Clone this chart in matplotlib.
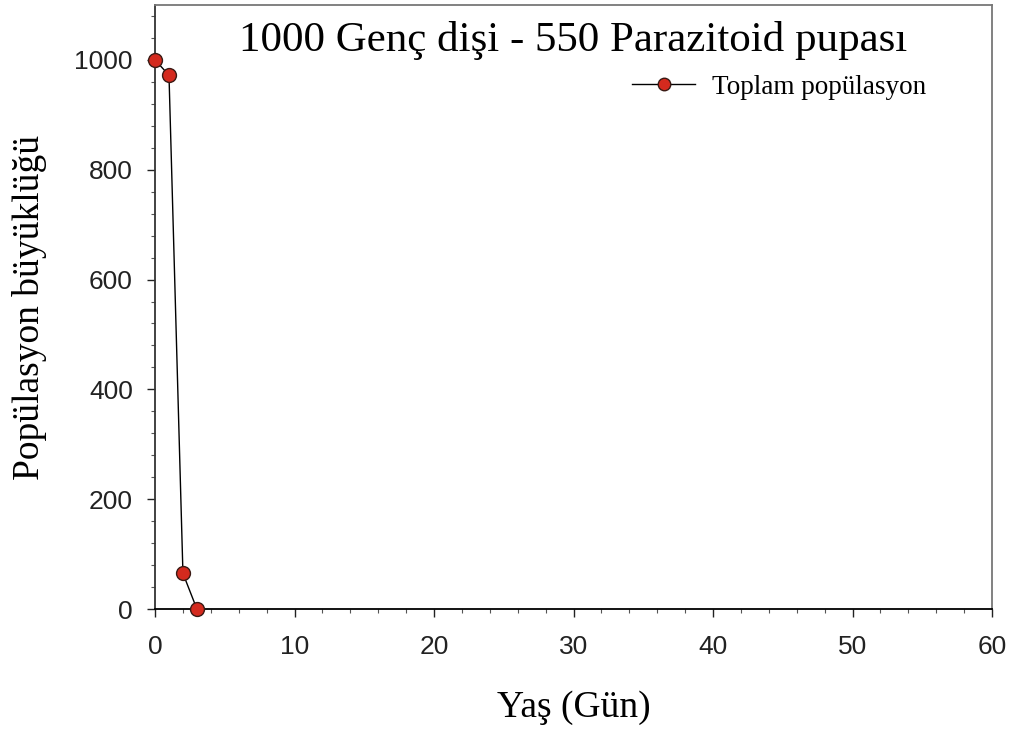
import matplotlib
matplotlib.use('Agg')
import matplotlib.pyplot as plt
from matplotlib.ticker import MultipleLocator

# data
gun = [0, 1, 2, 3]
toplam = [1000, 972, 65, 0]

baslik = '1000 Genç dişi - 550 Parazitoid pupası'
x_etiket = 'Yaş (Gün)'
y_etiket = 'Popülasyon büyüklüğü'
seri_adi = 'Toplam popülasyon'

fig = plt.figure(figsize=(10.16, 7.35), dpi=100)
ax = fig.add_axes([0.1526, 0.1714, 0.8238, 0.8218])

ax.plot(gun, toplam, color='black', linewidth=1.0, marker='o',
        markersize=10, markerfacecolor='#d42a1e', markeredgecolor='#3a1a14',
        markeredgewidth=1.0, label=seri_adi, clip_on=False, zorder=5)

ax.set_xlim(0, 60)
ax.set_ylim(0, 1100)
ax.xaxis.set_major_locator(MultipleLocator(10))
ax.xaxis.set_minor_locator(MultipleLocator(2))
ax.yaxis.set_minor_locator(MultipleLocator(40))
ax.set_yticks([0, 200, 400, 600, 800, 1000])

ax.tick_params(which='major', direction='out', length=6, width=1.0,
               labelsize=19, colors='#222222')
ax.tick_params(axis='x', which='major', pad=13)
ax.tick_params(axis='y', which='major', pad=10)
ax.tick_params(which='minor', direction='out', length=3, width=0.8, colors='#555555')
for lbl in ax.get_xticklabels() + ax.get_yticklabels():
    lbl.set_family('Liberation Sans')

ax.spines['bottom'].set_color('black')
ax.spines['left'].set_color('#333333')
ax.spines['top'].set_color('#777777')
ax.spines['right'].set_color('#777777')
for s in ax.spines.values():
    s.set_linewidth(1.3)

ax.set_xlabel(x_etiket, family='Liberation Serif', fontsize=27, labelpad=22)
ax.set_ylabel(y_etiket, family='Liberation Serif', fontsize=27, labelpad=20)
ax.text(0.5, 0.941, baslik, transform=ax.transAxes, ha='center', va='center',
        family='Liberation Serif', fontsize=31)

ax.legend(loc='center left', bbox_to_anchor=(0.570, 0.864), frameon=False,
          prop={'family': 'Liberation Serif', 'size': 19.5},
          handlelength=2.33, handletextpad=0.63, borderpad=0, borderaxespad=0,
          markerscale=0.9)

fig.savefig('out.png', dpi=100)
